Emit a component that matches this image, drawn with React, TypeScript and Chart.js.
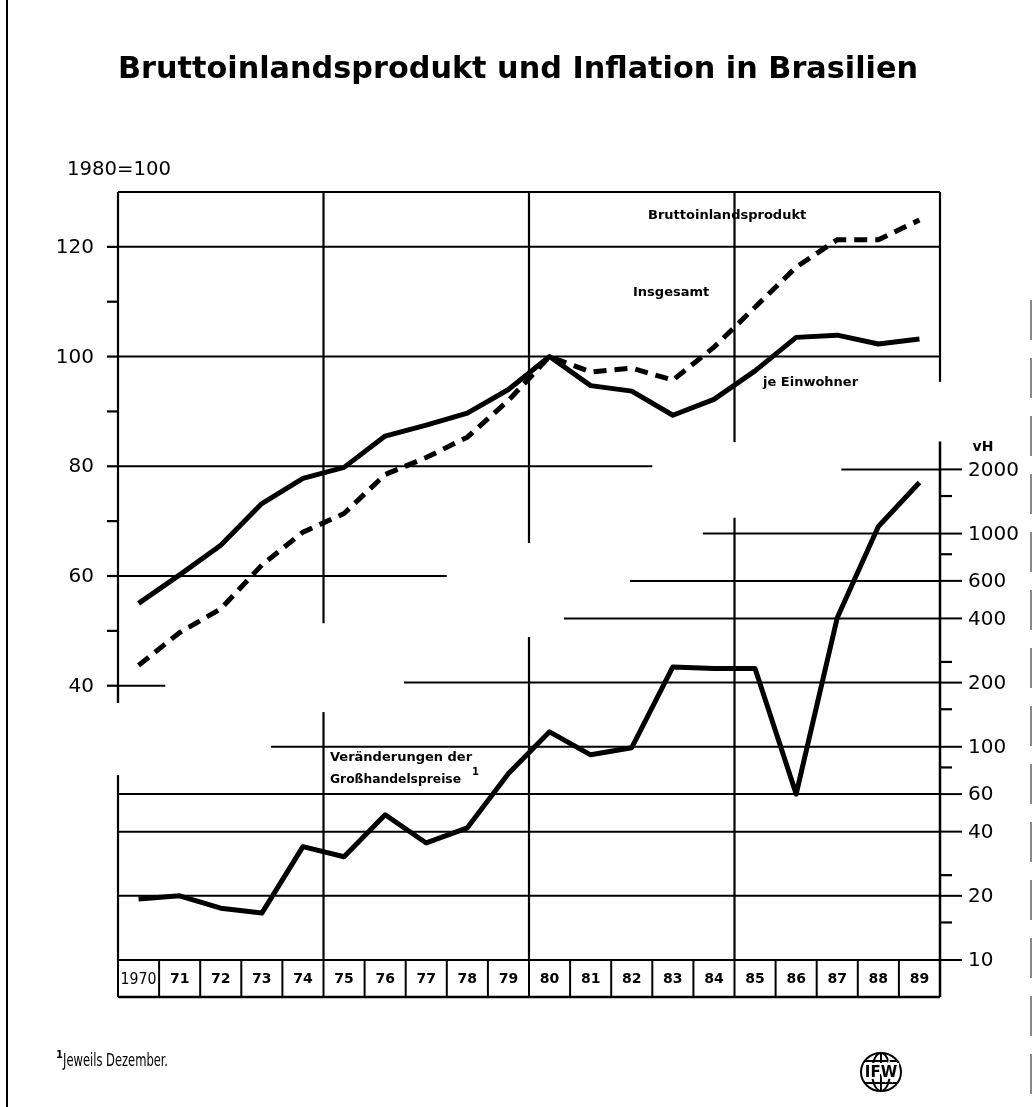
import React, { useEffect, useRef } from 'react';
import { Chart, registerables } from 'chart.js';

Chart.register(...registerables);

// ---------- data ----------
const years = ['1970', '71', '72', '73', '74', '75', '76', '77', '78', '79', '80', '81', '82', '83', '84', '85', '86', '87', '88', '89'];
const bipInsgesamt = [43.7, 49.7, 54.0, 62.0, 68.0, 71.4, 78.5, 81.6, 85.3, 92.0, 100, 97.2, 97.9, 95.7, 101.7, 109.0, 116.3, 121.3, 121.3, 124.9];
const bipJeEinwohner = [55.0, 60.2, 65.6, 73.2, 77.8, 79.8, 85.5, 87.5, 89.7, 94.0, 100, 94.7, 93.7, 89.3, 92.2, 97.4, 103.5, 103.9, 102.3, 103.2];
const grosshandelspreise = [19.3, 20.0, 17.5, 16.6, 34.0, 30.5, 48.0, 35.4, 41.7, 75.0, 117.5, 91.7, 99.0, 237, 233, 233, 60, 403, 1079, 1735];
const leftTickLabels = [40, 60, 80, 100, 120];
const leftTickMarks = [40, 50, 60, 70, 80, 90, 100, 110, 120];
const rightTickLabels = [10, 20, 40, 60, 100, 200, 400, 600, 1000, 2000];
const rightMinorTicks = [15, 25, 80, 150, 250, 800, 1500];

const TITLE = 'Bruttoinlandsprodukt und Inflation in Brasilien';
const FONT = '"DejaVu Sans", "Liberation Sans", sans-serif';

const decoPlugin = {
  id: 'deco',
  beforeDatasetsDraw(chart: any) {
    const { ctx, chartArea: ca, scales } = chart;
    const x = scales.x, yl = scales.yL, yr = scales.yR;
    const bx = (k: number) => x.getPixelForValue(k - 0.5);
    const line = (x1: number, y1: number, x2: number, y2: number, w = 2) => {
      ctx.beginPath();
      ctx.lineWidth = w;
      ctx.moveTo(x1, y1);
      ctx.lineTo(x2, y2);
      ctx.stroke();
    };
    ctx.save();
    ctx.strokeStyle = '#000';
    ctx.lineCap = 'butt';

    // horizontal grid, upper (left axis): [value, fromBoundary, toBoundary]
    const hl: [number, number, number][] = [
      [130, 0, 20], [120, 0, 20], [100, 0, 20], [80, 0, 13], [60, 0, 8], [40, 0, 1.15],
    ];
    hl.forEach(([v, a, b]) => line(bx(a), yl.getPixelForValue(v), bx(b), yl.getPixelForValue(v), 2));

    // horizontal grid, lower (right log axis)
    const hr: [number, number][] = [
      [2000, 17.6], [1000, 14.23], [600, 12.46], [400, 10.85], [200, 6.96], [100, 3.72],
      [60, 0], [40, 0], [20, 0], [10, 0],
    ];
    hr.forEach(([v, a]) => line(bx(a), yr.getPixelForValue(v), bx(20), yr.getPixelForValue(v), 2));

    // vertical grid segments: [boundary, [fromValue, toValue] in left-axis units]
    const vs: [number, [number, number][]][] = [
      [0, [[130, 36.9], [23.7, -10]]],
      [5, [[130, 51.4], [35.2, -10]]],
      [10, [[130, 66], [48.9, -10]]],
      [15, [[130, 84.4], [70.6, -10]]],
      [20, [[130, 95.4]]],
    ];
    vs.forEach(([k, segs]) => segs.forEach(([a, b]) => line(bx(k), yl.getPixelForValue(a), bx(k), yl.getPixelForValue(b), 2.2)));

    // right axis line
    const rowH = 37;
    line(bx(20), yr.getPixelForValue(2700), bx(20), ca.bottom + rowH, 2.5);

    // left tick marks
    leftTickMarks.forEach((v) => line(ca.left - 11, yl.getPixelForValue(v), ca.left, yl.getPixelForValue(v), 2.2));
    line(ca.left, yl.getPixelForValue(40), ca.left, yl.getPixelForValue(36.9), 2.2);

    // right ticks
    rightTickLabels.forEach((v) => line(bx(20), yr.getPixelForValue(v), bx(20) + 22, yr.getPixelForValue(v), 2));
    rightMinorTicks.forEach((v) => line(bx(20), yr.getPixelForValue(v), bx(20) + 12, yr.getPixelForValue(v), 2.2));

    // year row
    line(ca.left, ca.bottom + rowH, bx(20), ca.bottom + rowH, 2.5);
    for (let k = 0; k <= 20; k++) line(bx(k), ca.bottom, bx(k), ca.bottom + rowH, 2);
    ctx.fillStyle = '#000';
    ctx.textAlign = 'center';
    ctx.textBaseline = 'middle';
    years.forEach((lab, i) => {
      if (i === 0) {
        ctx.font = `16px ${FONT}`;
        ctx.fillText(lab, x.getPixelForValue(i), ca.bottom + rowH / 2 + 1, 36);
      } else {
        ctx.font = `bold 14px ${FONT}`;
        ctx.fillText(lab, x.getPixelForValue(i), ca.bottom + rowH / 2 + 1, 30);
      }
    });
    ctx.restore();
  },
  afterDatasetsDraw(chart: any) {
    const { ctx, scales, width } = chart;
    const x = scales.x, yl = scales.yL, yr = scales.yR;
    const bx = (k: number) => x.getPixelForValue(k - 0.5);
    ctx.save();
    ctx.fillStyle = '#000';
    ctx.strokeStyle = '#000';

    // title
    ctx.font = `bold 31px ${FONT}`;
    ctx.textAlign = 'center';
    ctx.textBaseline = 'middle';
    ctx.fillText(TITLE, 518, 70, 800);

    // unit labels
    ctx.font = `20px ${FONT}`;
    ctx.textAlign = 'left';
    ctx.fillText('1980=100', 67, 170, 104);
    ctx.font = `bold 14px ${FONT}`;
    ctx.textAlign = 'center';
    ctx.fillText('vH', 983, 447);

    // left labels
    ctx.font = `20px ${FONT}`;
    ctx.textAlign = 'right';
    leftTickLabels.forEach((v) => ctx.fillText(String(v), 94, yl.getPixelForValue(v) + 1));
    // right labels
    ctx.textAlign = 'left';
    rightTickLabels.forEach((v) => ctx.fillText(String(v), bx(20) + 28, yr.getPixelForValue(v) + 1));

    // annotations
    ctx.font = `bold 13px ${FONT}`;
    ctx.textAlign = 'left';
    ctx.fillText('Bruttoinlandsprodukt', 648, 216, 179);
    ctx.fillText('Insgesamt', 633, 293, 82);
    ctx.fillText('je Einwohner', 763, 383, 109);
    ctx.fillText('Veränderungen der', 330, 758, 160);
    ctx.fillText('Großhandelspreise', 330, 780, 131);
    ctx.font = `bold 10px ${FONT}`;
    ctx.fillText('1', 472, 772);

    // footnote
    ctx.font = `bold 10px ${FONT}`;
    ctx.fillText('1', 56, 1055);
    ctx.font = `17px "Liberation Sans Narrow", "DejaVu Sans Condensed", ${FONT}`;
    ctx.fillText('Jeweils Dezember.', 63, 1062, 105);

    // IFW logo
    const cx = 881, cy = 1072;
    ctx.lineWidth = 2;
    ctx.beginPath(); ctx.ellipse(cx, cy, 20, 19, 0, 0, Math.PI * 2); ctx.stroke();
    ctx.beginPath(); ctx.ellipse(cx, cy, 9, 19, 0, 0, Math.PI * 2); ctx.stroke();
    ctx.beginPath(); ctx.moveTo(cx, cy - 19); ctx.lineTo(cx, cy + 19); ctx.stroke();
    ctx.beginPath(); ctx.moveTo(cx - 16, cy - 11); ctx.lineTo(cx + 16, cy - 11); ctx.stroke();
    ctx.beginPath(); ctx.moveTo(cx - 16, cy + 11); ctx.lineTo(cx + 16, cy + 11); ctx.stroke();
    ctx.font = `bold 15px ${FONT}`;
    ctx.textAlign = 'center';
    ctx.lineWidth = 4;
    ctx.strokeStyle = '#fff';
    ctx.strokeText('IFW', cx, cy + 1, 40);
    ctx.fillText('IFW', cx, cy + 1, 40);

    // frame edges
    ctx.strokeStyle = '#000';
    ctx.lineWidth = 2;
    ctx.beginPath(); ctx.moveTo(7, 0); ctx.lineTo(7, 1107); ctx.stroke();
    ctx.strokeStyle = '#888';
    ctx.setLineDash([40, 18]);
    ctx.beginPath(); ctx.moveTo(width - 2, 300); ctx.lineTo(width - 2, 1107); ctx.stroke();
    ctx.setLineDash([]);
    ctx.restore();
  },
};

export default function App() {
  const ref = useRef<HTMLCanvasElement | null>(null);
  useEffect(() => {
    if (!ref.current) return;
    const chart = new Chart(ref.current, {
      type: 'line',
      data: {
        labels: years,
        datasets: [
          {
            label: 'Bruttoinlandsprodukt insgesamt',
            data: bipInsgesamt,
            yAxisID: 'yL',
            borderColor: '#000',
            borderWidth: 5,
            borderDash: [13, 8],
            pointRadius: 0,
            tension: 0,
            fill: false,
            clip: false as any,
          },
          {
            label: 'Bruttoinlandsprodukt je Einwohner',
            data: bipJeEinwohner,
            yAxisID: 'yL',
            borderColor: '#000',
            borderWidth: 5,
            borderJoinStyle: 'round',
            pointRadius: 0,
            tension: 0,
            fill: false,
            clip: false as any,
          },
          {
            label: 'Veränderungen der Großhandelspreise',
            data: grosshandelspreise,
            yAxisID: 'yR',
            borderColor: '#000',
            borderWidth: 5,
            borderJoinStyle: 'round',
            pointRadius: 0,
            tension: 0,
            fill: false,
            clip: false as any,
          },
        ],
      },
      options: {
        responsive: false,
        devicePixelRatio: 1,
        animation: false,
        layout: { padding: { left: 118, right: 93, top: 192, bottom: 147 } },
        plugins: { legend: { display: false }, tooltip: { enabled: false }, title: { display: false } },
        scales: {
          x: { type: 'category', offset: true, display: false },
          yL: { type: 'linear', min: -10, max: 130, display: false },
          yR: { type: 'logarithmic', min: 10, max: 40000, display: false },
        },
      },
      plugins: [decoPlugin],
    });
    return () => chart.destroy();
  }, []);
  return (
    <div style={{ position: 'absolute', left: 0, top: 0, width: 1033, height: 1107, background: '#fff' }}>
      <canvas ref={ref} width={1033} height={1107} style={{ width: 1033, height: 1107, display: 'block' }} />
    </div>
  );
}
